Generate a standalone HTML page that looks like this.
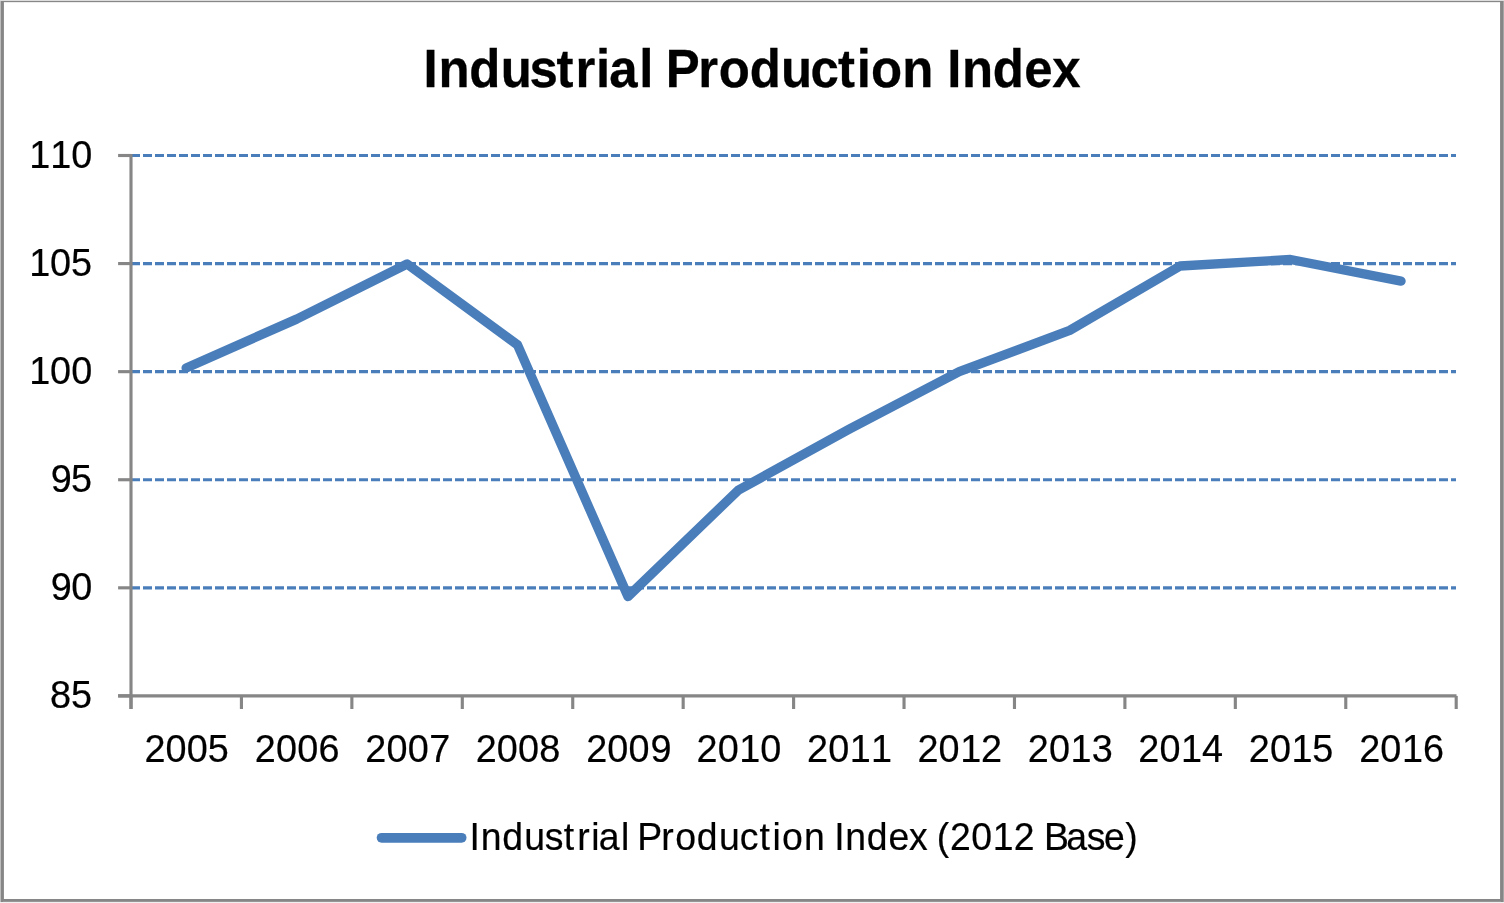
<!DOCTYPE html>
<html lang="en">
<head>
<meta charset="utf-8">
<title>Industrial Production Index</title>
<style>
html,body{margin:0;padding:0;background:#fff;}
body{width:1504px;height:903px;overflow:hidden;font-family:"Liberation Sans",sans-serif;}
svg{display:block;}
.lab{font-family:"Liberation Sans",sans-serif;font-size:38.8px;fill:#000;stroke:#000;stroke-width:0.2px;}
.ttl{font-family:"Liberation Sans",sans-serif;font-size:54.3px;font-weight:bold;fill:#000;stroke:#000;stroke-width:0.3px;}
.leg{font-family:"Liberation Sans",sans-serif;font-size:38.4px;fill:#000;stroke:#000;stroke-width:0.2px;}
</style>
</head>
<body>
<svg width="1504" height="903" viewBox="0 0 1504 903">
<rect x="0" y="0" width="1504" height="903" fill="#fff"/>
<!-- chart border -->
<g shape-rendering="crispEdges">
<rect x="0" y="0" width="1504" height="1" fill="#dddddd"/>
<rect x="0" y="1" width="1504" height="1" fill="#878787"/>
<rect x="0" y="2" width="1504" height="1" fill="#ececec"/>
<rect x="0" y="899" width="1504" height="2" fill="#868686"/>
<rect x="0" y="901" width="1504" height="1" fill="#969696"/>
<rect x="0" y="902" width="1504" height="1" fill="#efefef"/>
<rect x="0" y="1" width="1" height="901" fill="#bdbdbd"/>
<rect x="1" y="1" width="2" height="901" fill="#868686"/>
<rect x="3" y="2" width="1" height="897" fill="#8f8f8f"/>
<rect x="1500" y="2" width="1" height="897" fill="#8e8e8e"/>
<rect x="1501" y="1" width="2" height="901" fill="#868686"/>
<rect x="1503" y="1" width="1" height="901" fill="#a6a6a6"/>
</g>
<!-- gridlines -->
<g stroke="#4a7ebb" stroke-width="3.13" stroke-dasharray="9 3" fill="none">
<line x1="131.0" y1="155.50" x2="1456.0" y2="155.50"/>
<line x1="131.0" y1="263.58" x2="1456.0" y2="263.58"/>
<line x1="131.0" y1="371.66" x2="1456.0" y2="371.66"/>
<line x1="131.0" y1="479.74" x2="1456.0" y2="479.74"/>
<line x1="131.0" y1="587.82" x2="1456.0" y2="587.82"/>
</g>
<!-- axes -->
<g stroke="#868686" stroke-width="3.13" fill="none">
<line x1="131.0" y1="153.95" x2="131.0" y2="709"/>
<line x1="118.1" y1="695.90" x2="1456.5" y2="695.90"/>
<line x1="118.1" y1="155.50" x2="131.0" y2="155.50"/>
<line x1="118.1" y1="263.58" x2="131.0" y2="263.58"/>
<line x1="118.1" y1="371.66" x2="131.0" y2="371.66"/>
<line x1="118.1" y1="479.74" x2="131.0" y2="479.74"/>
<line x1="118.1" y1="587.82" x2="131.0" y2="587.82"/>
<line x1="118.1" y1="695.90" x2="131.0" y2="695.90"/>
<line x1="131.00" y1="695.90" x2="131.00" y2="709"/>
<line x1="241.43" y1="695.90" x2="241.43" y2="709"/>
<line x1="351.87" y1="695.90" x2="351.87" y2="709"/>
<line x1="462.30" y1="695.90" x2="462.30" y2="709"/>
<line x1="572.73" y1="695.90" x2="572.73" y2="709"/>
<line x1="683.17" y1="695.90" x2="683.17" y2="709"/>
<line x1="793.60" y1="695.90" x2="793.60" y2="709"/>
<line x1="904.03" y1="695.90" x2="904.03" y2="709"/>
<line x1="1014.47" y1="695.90" x2="1014.47" y2="709"/>
<line x1="1124.90" y1="695.90" x2="1124.90" y2="709"/>
<line x1="1235.33" y1="695.90" x2="1235.33" y2="709"/>
<line x1="1345.77" y1="695.90" x2="1345.77" y2="709"/>
<line x1="1456.20" y1="695.90" x2="1456.20" y2="709"/>
</g>
<!-- series -->
<polyline points="186.2,368.0 296.6,319.1 407.1,264.0 517.5,344.9 628.0,596.5 738.4,490.1 848.8,429.4 959.2,371.7 1069.7,330.4 1180.1,266.0 1290.5,259.5 1401.0,281.1" fill="none" stroke="#4a7ebb" stroke-width="9.4" stroke-linecap="round" stroke-linejoin="round"/>
<!-- title -->
<g class="ttl">
<text transform="scale(0.9380 1)" x="451.47 467.49 500.37 533.75 564.54 593.41 613.66 635.48 649.40 681.39 696.27 709.65 744.44 766.23 799.23 832.53 863.97 893.30 913.27 928.48 961.88 994.40 1009.76 1025.62 1058.30 1091.96 1121.77" y="87.3">Industrial Production Index</text>
</g>
<!-- axis labels -->
<g class="lab">
<text transform="scale(0.9750 1)" x="29.89 51.67 73.09" y="168.0">110</text>
<text transform="scale(0.9750 1)" x="29.89 51.31 72.83" y="276.1">105</text>
<text transform="scale(0.9750 1)" x="29.89 51.31 73.09" y="384.2">100</text>
<text transform="scale(0.9750 1)" x="51.96 72.83" y="492.2">95</text>
<text transform="scale(0.9750 1)" x="51.96 73.09" y="600.3">90</text>
<text transform="scale(0.9750 1)" x="51.31 72.83" y="708.4">85</text>
<text transform="scale(0.9750 1)" x="148.10 169.82 191.61 213.13" y="762">2005</text>
<text transform="scale(0.9750 1)" x="261.36 283.09 304.87 326.74" y="762">2006</text>
<text transform="scale(0.9750 1)" x="374.63 396.35 418.14 440.23" y="762">2007</text>
<text transform="scale(0.9750 1)" x="487.89 509.62 531.40 553.18" y="762">2008</text>
<text transform="scale(0.9750 1)" x="601.16 622.88 644.67 667.10" y="762">2009</text>
<text transform="scale(0.9750 1)" x="714.42 736.15 758.29 779.71" y="762">2010</text>
<text transform="scale(0.9750 1)" x="827.69 849.41 871.56 893.34" y="762">2011</text>
<text transform="scale(0.9750 1)" x="940.95 962.68 984.82 1006.29" y="762">2012</text>
<text transform="scale(0.9750 1)" x="1054.22 1075.94 1098.09 1119.80" y="762">2013</text>
<text transform="scale(0.9750 1)" x="1167.48 1189.21 1211.35 1232.90" y="762">2014</text>
<text transform="scale(0.9750 1)" x="1280.75 1302.47 1324.62 1345.78" y="762">2015</text>
<text transform="scale(0.9750 1)" x="1394.01 1415.74 1437.88 1459.39" y="762">2016</text>
</g>
<!-- legend -->
<line x1="381.6" y1="837.8" x2="461.6" y2="837.8" stroke="#4a7ebb" stroke-width="9.8" stroke-linecap="round"/>
<g class="leg">
<text transform="scale(0.9740 1)" x="482.09 493.54 515.64 538.34 559.37 578.86 592.62 607.13 614.67 637.52 645.81 654.20 678.80 693.25 715.46 738.10 759.57 779.88 793.16 802.95 825.59 846.55 856.53 867.94 889.99 912.22 933.15 951.71 961.75 975.42 997.13 1019.25 1040.69 1062.31 1071.99 1094.65 1115.70 1133.44 1155.32" y="850">Industrial Production Index (2012 Base)</text>
</g>
</svg>
</body>
</html>
